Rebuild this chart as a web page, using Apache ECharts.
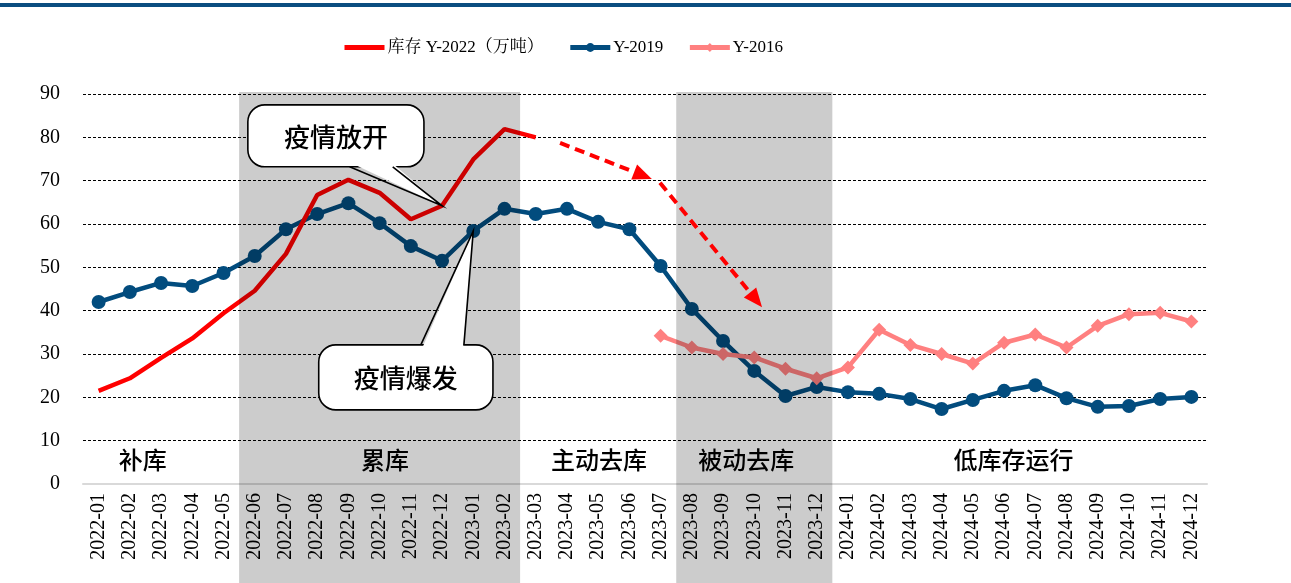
<!DOCTYPE html>
<html>
<head>
<meta charset="utf-8">
<script src="https://cdn.jsdelivr.net/npm/echarts@6/dist/echarts.min.js"></script>
<style>
  html, body { margin: 0; padding: 0; background: #fff; }
  #chart { width: 1291px; height: 583px; }
</style>
</head>
<body>
<div id="chart"></div>
<script>
const months = [
  '2022-01', '2022-02', '2022-03', '2022-04', '2022-05', '2022-06', '2022-07', '2022-08', '2022-09', '2022-10', '2022-11', '2022-12',
  '2023-01', '2023-02', '2023-03', '2023-04', '2023-05', '2023-06', '2023-07', '2023-08', '2023-09', '2023-10', '2023-11', '2023-12',
  '2024-01', '2024-02', '2024-03', '2024-04', '2024-05', '2024-06', '2024-07', '2024-08', '2024-09', '2024-10', '2024-11', '2024-12'
]
// 库存 Y-2022, 2022-01 ~ 2023-03
const stock2022 = [21.5, 24.4, 29.1, 33.6, 39.4, 44.6, 53.1, 66.7, 70.2, 67.2, 61.1, 64.2, 74.9, 81.9, 80.0]
// Y-2019, full range
const y2019 = [
  42.0, 44.3, 46.4, 45.7, 48.7, 52.6, 58.8, 62.3, 64.8, 60.2, 54.9, 51.5,
  58.4, 63.5, 62.3, 63.5, 60.5, 58.8, 50.3, 40.4, 33.0, 26.1, 20.3, 22.4,
  21.2, 20.8, 19.6, 17.3, 19.4, 21.5, 22.8, 19.8, 17.8, 18.0, 19.6, 20.1
]
// Y-2016, 2023-07 ~ 2024-12
const y2016Months = months.slice(18)
const y2016 = [34.2, 31.5, 30.0, 29.2, 26.6, 24.4, 26.9, 35.6, 32.1, 30.0, 27.8, 32.6, 34.5, 31.5, 36.5, 39.2, 39.5, 37.5]

// 阴影区间（起止月份）
const bands = [['2022-06', '2023-02'], ['2023-08', '2023-12']]
// 阶段文字
const phaseNames = ['补库', '累库', '主动去库', '被动去库', '低库存运行']
const phasePos = [1.41, 9.17, 16.03, 20.74, 29.3]

const serif = '"Times New Roman", "Liberation Serif", "Noto Serif CJK SC", "Noto Sans CJK SC", serif'
const cjk = '"Noto Sans CJK SC", sans-serif'

const chart = echarts.init(document.getElementById('chart'))

chart.setOption({
  animation: false,
  legend: {
    top: 34,
    left: 337,
    itemWidth: 40,
    itemHeight: 11,
    itemGap: 24,
    lineStyle: { width: 5 },
    textStyle: { fontFamily: serif, fontSize: 17, color: '#000', padding: [0, 0, 0, -2] },
    data: [
      { name: '库存 Y-2022（万吨）', itemStyle: { opacity: 0 } },
      'Y-2019',
      'Y-2016',
    ],
  },
  grid: { left: 83, right: 84, top: 94, bottom: 99, outerBoundsMode: 'none' },
  xAxis: {
    type: 'category',
    data: months,
    axisLine: { lineStyle: { color: '#d9d9d9', width: 2 } },
    axisTick: { show: false },
    axisLabel: { rotate: 90, interval: 0, fontFamily: serif, fontSize: 20, color: '#000', margin: 9 },
  },
  yAxis: {
    type: 'value',
    min: 0,
    max: 90,
    interval: 10,
    axisLine: { show: false },
    axisTick: { show: false },
    axisLabel: { fontFamily: serif, fontSize: 20, color: '#000', margin: 23 },
    splitLine: { lineStyle: { color: '#000', width: 1, type: [3, 2] } },
  },
  series: [
    {
      name: '库存 Y-2022（万吨）',
      type: 'line',
      data: stock2022.map((v, i) => [months[i], v]),
      symbol: 'none',
      lineStyle: { color: '#ff0000', width: 4.5 },
      itemStyle: { color: '#ff0000' },
      z: 3,
    },
    {
      name: 'Y-2019',
      type: 'line',
      data: y2019,
      symbol: 'circle',
      symbolSize: 14,
      lineStyle: { color: '#024c7e', width: 4.5 },
      itemStyle: { color: '#024c7e' },
      z: 2,
    },
    {
      name: 'Y-2016',
      type: 'line',
      data: y2016.map((v, i) => [y2016Months[i], v]),
      symbol: 'diamond',
      symbolSize: 14,
      lineStyle: { color: '#ff8080', width: 4.5 },
      itemStyle: { color: '#ff8080' },
      z: 4,
    },
  ],
})

// 按类目序号（可带小数）和数值取像素坐标
function pt(idx, val) {
  const x0 = chart.convertToPixel({ xAxisIndex: 0 }, months[0])
  const x1 = chart.convertToPixel({ xAxisIndex: 0 }, months[1])
  const y = chart.convertToPixel({ yAxisIndex: 0 }, val)
  return [x0 + (x1 - x0) * idx, y]
}

function arrow(from, to) {
  const a = pt(from[0], from[1])
  const b = pt(to[0], to[1])
  const ang = Math.atan2(b[1] - a[1], b[0] - a[0])
  const len = 19, half = 8
  const base = [b[0] - len * Math.cos(ang), b[1] - len * Math.sin(ang)]
  const nx = -Math.sin(ang), ny = Math.cos(ang)
  return [
    {
      type: 'line', z: 120,
      shape: { x1: a[0], y1: a[1], x2: base[0], y2: base[1] },
      style: { stroke: '#ff0000', lineWidth: 4, lineDash: [10, 6] },
    },
    {
      type: 'polygon', z: 120,
      shape: { points: [b, [base[0] + nx * half, base[1] + ny * half], [base[0] - nx * half, base[1] - ny * half]] },
      style: { fill: '#ff0000' },
    },
  ]
}

// 气泡框：box 为 [左序号, 右序号, 上值, 下值]，tail 为底边两点序号，tip 为尖端
function callout(text, box, tailBase, tip, onTop) {
  const p1 = pt(box[0], box[2])
  const p2 = pt(box[1], box[3])
  const t = pt(tip[0], tip[1])
  const edgeY = onTop ? p1[1] : p2[1]
  const inner = onTop ? 4 : -4
  const b1 = pt(tailBase[0], 0)[0]
  const b2 = pt(tailBase[1], 0)[0]
  return [
    {
      type: 'rect', z: 130,
      shape: { x: p1[0], y: p1[1], width: p2[0] - p1[0], height: p2[1] - p1[1], r: 17 },
      style: { fill: '#fff', stroke: '#000', lineWidth: 1.6 },
    },
    {
      type: 'polygon', z: 131,
      shape: { points: [[b1 + 1, edgeY + inner], t, [b2 - 1, edgeY + inner]] },
      style: { fill: '#fff' },
    },
    {
      type: 'polyline', z: 132,
      shape: { points: [[b1, edgeY], t, [b2, edgeY]] },
      style: { stroke: '#000', lineWidth: 1.6, fill: null },
    },
    {
      type: 'text', z: 133,
      x: (p1[0] + p2[0]) / 2, y: (p1[1] + p2[1]) / 2 + 1,
      style: { text, fontFamily: cjk, fontSize: 26, fontWeight: 500, fill: '#000', align: 'center', verticalAlign: 'middle' },
    },
  ]
}

const graphics = []
const yTop = pt(0, 90)[1] - 2
bands.forEach(([s, e]) => {
  const l = pt(months.indexOf(s) - 0.5, 0)[0]
  const r = pt(months.indexOf(e) + 0.5, 0)[0]
  graphics.push({
    type: 'rect', z: 100,
    shape: { x: l, y: yTop, width: r - l, height: 583 - yTop },
    style: { fill: 'rgba(0,0,0,0.2)' },
  })
})
phaseNames.forEach((name, i) => {
  const p = pt(phasePos[i], 5.5)
  graphics.push({
    type: 'text', z: 140, x: p[0], y: p[1],
    style: { text: name, fontFamily: cjk, fontSize: 24, fontWeight: 500, fill: '#000', align: 'center', verticalAlign: 'middle' },
  })
})
graphics.push(...arrow([14.78, 78.7], [17.72, 70.4]))
graphics.push(...arrow([17.98, 69.5], [21.25, 40.8]))
graphics.push(...callout('疫情放开', [4.78, 10.42, 87.5, 73.2], [8.04, 9.42], [11, stock2022[11]], false))
graphics.push(...callout('疫情爆发', [7.05, 12.63, 32.1, 17.1], [10.32, 11.7], [12, y2019[12]], true))
// 顶部蓝色横线
graphics.push({
  type: 'rect', z: 150,
  shape: { x: 0, y: 3, width: 1291, height: 4 },
  style: { fill: '#0a4d80' },
})

chart.setOption({ graphic: graphics })
window.addEventListener('resize', () => chart.resize())
</script>
</body>
</html>
